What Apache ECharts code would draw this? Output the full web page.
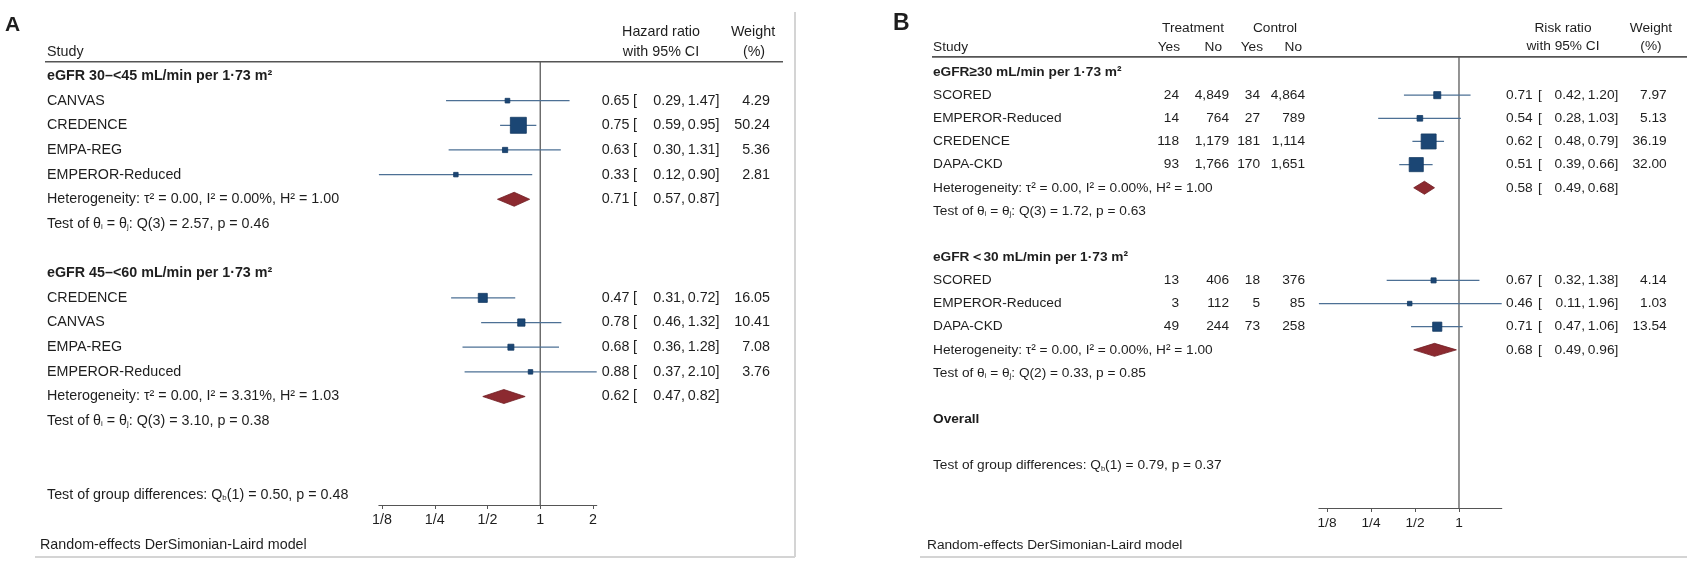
<!DOCTYPE html>
<html><head><meta charset="utf-8">
<script src="https://cdn.jsdelivr.net/npm/echarts@6/dist/echarts.min.js"></script>
<style>html,body{margin:0;padding:0;background:#fff}#c{width:1687px;height:570px}</style>
</head><body><div id="c"></div><script>
// ================= DATA: Panel A =================
const titleA1 = 'eGFR 30–<45 mL/min per 1·73 m²';
const namesA1 = ['CANVAS', 'CREDENCE', 'EMPA-REG', 'EMPEROR-Reduced'];
const estA1 = [0.65, 0.75, 0.63, 0.33];
const loA1 = [0.29, 0.59, 0.30, 0.12];
const hiA1 = [1.47, 0.95, 1.31, 0.90];
const weightA1 = [4.29, 50.24, 5.36, 2.81];
const pooledA1 = [0.71, 0.57, 0.87];
const hetA1 = 'Heterogeneity: τ² = 0.00, I² = 0.00%, H² = 1.00';
const testA1 = 'Test of θ{s|i} = θ{s|j}: Q(3) = 2.57, p = 0.46';

const titleA2 = 'eGFR 45–<60 mL/min per 1·73 m²';
const namesA2 = ['CREDENCE', 'CANVAS', 'EMPA-REG', 'EMPEROR-Reduced'];
const estA2 = [0.47, 0.78, 0.68, 0.88];
const loA2 = [0.31, 0.46, 0.36, 0.37];
const hiA2 = [0.72, 1.32, 1.28, 2.10];
const weightA2 = [16.05, 10.41, 7.08, 3.76];
const pooledA2 = [0.62, 0.47, 0.82];
const hetA2 = 'Heterogeneity: τ² = 0.00, I² = 3.31%, H² = 1.03';
const testA2 = 'Test of θ{s|i} = θ{s|j}: Q(3) = 3.10, p = 0.38';
const diffA = 'Test of group differences: Q{s|b}(1) = 0.50, p = 0.48';
const ticksA = [0.125, 0.25, 0.5, 1, 2];
const tickLabelsA = ['1/8', '1/4', '1/2', '1', '2'];

// ================= DATA: Panel B =================
const titleB1 = 'eGFR≥30 mL/min per 1·73 m²';
const namesB1 = ['SCORED', 'EMPEROR-Reduced', 'CREDENCE', 'DAPA-CKD'];
const tYesB1 = [24, 14, 118, 93];
const tNoB1 = [4849, 764, 1179, 1766];
const cYesB1 = [34, 27, 181, 170];
const cNoB1 = [4864, 789, 1114, 1651];
const estB1 = [0.71, 0.54, 0.62, 0.51];
const loB1 = [0.42, 0.28, 0.48, 0.39];
const hiB1 = [1.20, 1.03, 0.79, 0.66];
const weightB1 = [7.97, 5.13, 36.19, 32.00];
const pooledB1 = [0.58, 0.49, 0.68];
const hetB1 = 'Heterogeneity: τ² = 0.00, I² = 0.00%, H² = 1.00';
const testB1 = 'Test of θ{s|i} = θ{s|j}: Q(3) = 1.72, p = 0.63';

const titleB2 = 'eGFR＜30 mL/min per 1·73 m²';
const namesB2 = ['SCORED', 'EMPEROR-Reduced', 'DAPA-CKD'];
const tYesB2 = [13, 3, 49];
const tNoB2 = [406, 112, 244];
const cYesB2 = [18, 5, 73];
const cNoB2 = [376, 85, 258];
const estB2 = [0.67, 0.46, 0.71];
const loB2 = [0.32, 0.11, 0.47];
const hiB2 = [1.38, 1.96, 1.06];
const weightB2 = [4.14, 1.03, 13.54];
const pooledB2 = [0.68, 0.49, 0.96];
const hetB2 = 'Heterogeneity: τ² = 0.00, I² = 0.00%, H² = 1.00';
const testB2 = 'Test of θ{s|i} = θ{s|j}: Q(2) = 0.33, p = 0.85';
const overallB = 'Overall';
const diffB = 'Test of group differences: Q{s|b}(1) = 0.79, p = 0.37';
const ticksB = [0.125, 0.25, 0.5, 1];
const tickLabelsB = ['1/8', '1/4', '1/2', '1'];

// ================= BUILD =================
const FF = '"Liberation Sans", Arial, Helvetica, sans-serif';
const TXT = '#1e1e1e';
const log2 = Math.log2;

function buildRows(groups, overall, diff) {
  const rows = []; let r = 0;
  groups.forEach(g => {
    rows.push({ row: r++, kind: 'group', text: g.title });
    g.names.forEach((n, i) => rows.push({
      row: r++, kind: 'study', name: n, est: g.est[i], lo: g.lo[i], hi: g.hi[i], w: g.w[i],
      counts: g.counts ? g.counts.map(c => c[i]) : null
    }));
    rows.push({ row: r++, kind: 'pooled', text: g.het, est: g.pooled[0], lo: g.pooled[1], hi: g.pooled[2] });
    rows.push({ row: r++, kind: 'test', text: g.test });
    r++;
  });
  if (overall) rows.push({ row: r++, kind: 'group', text: overall });
  rows.push({ row: r + 1, kind: 'test', text: diff });
  return rows;
}

const rowsA = buildRows([
  { title: titleA1, names: namesA1, est: estA1, lo: loA1, hi: hiA1, w: weightA1, pooled: pooledA1, het: hetA1, test: testA1 },
  { title: titleA2, names: namesA2, est: estA2, lo: loA2, hi: hiA2, w: weightA2, pooled: pooledA2, het: hetA2, test: testA2 }
], null, diffA);
const rowsB = buildRows([
  { title: titleB1, names: namesB1, est: estB1, lo: loB1, hi: hiB1, w: weightB1, counts: [tYesB1, tNoB1, cYesB1, cNoB1], pooled: pooledB1, het: hetB1, test: testB1 },
  { title: titleB2, names: namesB2, est: estB2, lo: loB2, hi: hiB2, w: weightB2, counts: [tYesB2, tNoB2, cYesB2, cNoB2], pooled: pooledB2, het: hetB2, test: testB2 }
], overallB, diffB);

const panels = [
  { rows: rowsA, ticks: ticksA, labels: tickLabelsA, fs: 14.3, sqMax: 16, dH: 14,
    grid: { left: 378.9, top: 61.7, width: 217.8, height: 443.3 }, yMin: -0.58, yMax: 17.40,
    cols: { left: 47, est: 629.5, br: 633, lo: 685, hi: 719.5, w: 770, counts: null } },
  { rows: rowsB, ticks: ticksB, labels: tickLabelsB, fs: 13.7, sqMax: 15, dH: 13,
    grid: { left: 1318.9, top: 57, width: 182.8, height: 451 }, yMin: -0.648, yMax: 18.83,
    cols: { left: 933, est: 1532.7, br: 1538, lo: 1585, hi: 1618.3, w: 1666.7, counts: [1179, 1229, 1260, 1305] } }
];

const grids = [], xAxes = [], yAxes = [], series = [];
panels.forEach((p, pi) => {
  const withCI = p.rows.filter(r => r.kind === 'study' || r.kind === 'pooled');
  const minLo = Math.min(...withCI.map(r => r.lo));
  const maxHi = Math.max(...withCI.map(r => r.hi));
  const wMax = Math.max(...p.rows.filter(r => r.kind === 'study').map(r => r.w));
  const tickVals = p.ticks.map(log2);
  grids.push(Object.assign({ outerBoundsMode: 'none', containLabel: false }, p.grid));
  xAxes.push({
    gridIndex: pi, type: 'value', min: log2(minLo), max: log2(maxHi),
    splitLine: { show: false },
    axisLine: { onZero: false, lineStyle: { color: '#555', width: 1.2 } },
    axisTick: { customValues: tickVals, length: 4, lineStyle: { color: '#555', width: 1 } },
    axisLabel: {
      customValues: tickVals, margin: 8, fontSize: p.fs, color: TXT, fontFamily: FF,
      formatter: v => { const i = tickVals.findIndex(t => Math.abs(t - v) < 1e-6); return i >= 0 ? p.labels[i] : ''; }
    }
  });
  yAxes.push({ gridIndex: pi, type: 'value', inverse: true, min: p.yMin, max: p.yMax, show: false });

  // reference line at ratio 1
  series.push({
    type: 'line', xAxisIndex: pi, yAxisIndex: pi, symbol: 'none', silent: true,
    data: [[log2(1), p.yMin], [log2(1), p.yMax]],
    lineStyle: { color: '#5a5a5a', width: 1.3 }, z: 1
  });

  // study CI lines + weighted squares
  series.push({
    type: 'custom', xAxisIndex: pi, yAxisIndex: pi, clip: false, z: 3,
    encode: { x: 0, y: 1 },
    data: p.rows.filter(r => r.kind === 'study').map(r => [log2(r.est), r.row, log2(r.lo), log2(r.hi), r.w]),
    renderItem: (params, api) => {
      const row = api.value(1);
      const pe = api.coord([api.value(0), row]);
      const pl = api.coord([api.value(2), row]);
      const ph = api.coord([api.value(3), row]);
      const s = Math.max(4.5, p.sqMax * Math.sqrt(api.value(4) / wMax));
      return { type: 'group', children: [
        { type: 'line', shape: { x1: pl[0], y1: pl[1], x2: ph[0], y2: ph[1] }, style: { stroke: '#4d7095', lineWidth: 1.3 } },
        { type: 'rect', shape: { x: pe[0] - s / 2, y: pe[1] - s / 2, width: s, height: s }, style: { fill: '#1b4674', stroke: '#143a62', lineWidth: 0.8 } }
      ] };
    }
  });

  // pooled diamonds
  series.push({
    type: 'custom', xAxisIndex: pi, yAxisIndex: pi, clip: false, z: 3,
    encode: { x: 0, y: 1 },
    data: p.rows.filter(r => r.kind === 'pooled').map(r => [log2(r.est), r.row, log2(r.lo), log2(r.hi)]),
    renderItem: (params, api) => {
      const row = api.value(1);
      const pe = api.coord([api.value(0), row]);
      const pl = api.coord([api.value(2), row]);
      const ph = api.coord([api.value(3), row]);
      const h = p.dH / 2;
      return { type: 'polygon', shape: { points: [[pl[0], pe[1]], [pe[0], pe[1] - h], [ph[0], pe[1]], [pe[0], pe[1] + h]] },
        style: { fill: '#8c2a30', stroke: '#701d22', lineWidth: 0.8 } };
    }
  });

  // text columns
  const c = p.cols;
  const rich = { s: { fontSize: p.fs * 0.55, verticalAlign: 'bottom', fontFamily: FF, fill: TXT } };
  const T = (x, y, text, align, bold) => ({ type: 'text', x: x, y: y, style: {
    text: text, fill: TXT, fontSize: p.fs, fontFamily: FF, fontWeight: bold ? 'bold' : 'normal',
    align: align || 'left', verticalAlign: 'middle', rich: rich } });
  const ci = (y, r) => [
    T(c.est, y, r.est.toFixed(2), 'right'), T(c.br, y, '['),
    T(c.lo, y, r.lo.toFixed(2) + ',', 'right'), T(c.hi, y, r.hi.toFixed(2) + ']', 'right')
  ];
  series.push({
    type: 'custom', xAxisIndex: pi, yAxisIndex: pi, clip: false, z: 4, silent: true,
    encode: { x: 0, y: 1 },
    data: p.rows.map((r, i) => [log2(1), r.row, i]),
    renderItem: (params, api) => {
      const r = p.rows[api.value(2)];
      const y = api.coord([0, api.value(1)])[1];
      const ch = [];
      if (r.kind === 'group') ch.push(T(c.left, y, r.text, 'left', true));
      else if (r.kind === 'test') ch.push(T(c.left, y, r.text));
      else if (r.kind === 'pooled') { ch.push(T(c.left, y, r.text)); ch.push(...ci(y, r)); }
      else if (r.kind === 'study') {
        ch.push(T(c.left, y, r.name));
        if (r.counts && c.counts) r.counts.forEach((v, k) => ch.push(T(c.counts[k], y, v.toLocaleString('en-US'), 'right')));
        ch.push(...ci(y, r));
        ch.push(T(c.w, y, r.w.toFixed(2), 'right'));
      }
      return { type: 'group', children: ch };
    }
  });
});

// ================= DECORATION =================
const gt = (x, y, text, size, align, bold) => ({ type: 'text', x: x, y: y, silent: true, style: {
  text: text, fill: TXT, fontSize: size, fontFamily: FF, fontWeight: bold ? 'bold' : 'normal',
  align: align || 'left', verticalAlign: 'middle' } });
const gl = (x1, y1, x2, y2, color, w) => ({ type: 'line', silent: true, shape: { x1, y1, x2, y2 }, style: { stroke: color, lineWidth: w } });

const graphics = [
  // Panel A
  gt(5, 25.5, 'A', 21, 'left', true),
  gt(47, 52, 'Study', 14.3),
  gt(661, 32, 'Hazard ratio', 14.3, 'center'),
  gt(661, 52, 'with 95% CI', 14.3, 'center'),
  gt(753, 32, 'Weight', 14.3, 'center'),
  gt(754, 52, '(%)', 14.3, 'center'),
  gl(45, 61.7, 783, 61.7, '#555', 1.6),
  gt(40, 545, 'Random-effects DerSimonian-Laird model', 14.3),
  gl(795, 12, 795, 557, '#d4d4d4', 2),
  gl(35, 557, 795, 557, '#d4d4d4', 2),
  // Panel B
  gt(893, 24, 'B', 23, 'left', true),
  gt(933, 47.3, 'Study', 13.7),
  gt(1193, 28.3, 'Treatment', 13.7, 'center'),
  gt(1180, 47.3, 'Yes', 13.7, 'right'),
  gt(1222, 47.3, 'No', 13.7, 'right'),
  gt(1275, 28.3, 'Control', 13.7, 'center'),
  gt(1263, 47.3, 'Yes', 13.7, 'right'),
  gt(1302, 47.3, 'No', 13.7, 'right'),
  gt(1563, 28.3, 'Risk ratio', 13.7, 'center'),
  gt(1563, 46.7, 'with 95% CI', 13.7, 'center'),
  gt(1651, 28.3, 'Weight', 13.7, 'center'),
  gt(1651, 46.7, '(%)', 13.7, 'center'),
  gl(932, 56.8, 1687, 56.8, '#555', 1.8),
  gt(927, 545, 'Random-effects DerSimonian-Laird model', 13.7),
  gl(920, 557, 1687, 557, '#d4d4d4', 2)
];

const chart = echarts.init(document.getElementById('c'), null, { renderer: 'canvas' });
chart.setOption({
  backgroundColor: '#ffffff',
  animation: false,
  textStyle: { fontFamily: FF },
  grid: grids, xAxis: xAxes, yAxis: yAxes, series: series,
  graphic: { elements: graphics }
});
</script></body></html>
